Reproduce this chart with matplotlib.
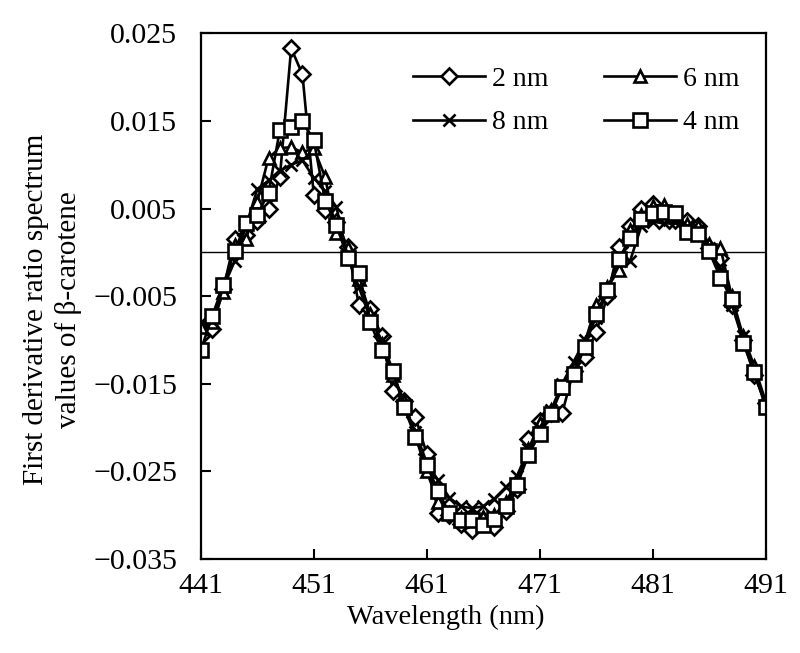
import matplotlib
matplotlib.use("Agg")
import matplotlib.pyplot as plt
from matplotlib.ticker import FuncFormatter

plt.rcParams['font.family'] = ['Liberation Serif', 'DejaVu Serif']

# wavelength grid (nm)
wavelength = list(range(441, 492))
x_ticks = [441, 451, 461, 471, 481, 491]
y_ticks = [-0.035, -0.025, -0.015, -0.005, 0.005, 0.015, 0.025]

# first derivative ratio values
d2nm = [-0.0095, -0.0087, -0.0042, 0.0015, 0.0020, 0.0036, 0.0049, 0.0086, 0.0233, 0.0203,
        0.0066, 0.0048, 0.0035, 0.0006, -0.0060, -0.0065, -0.0095, -0.0158, -0.0170, -0.0188,
        -0.0230, -0.0297, -0.0300, -0.0310, -0.0317, -0.0305, -0.0313, -0.0295, -0.0270, -0.0213,
        -0.0192, -0.0183, -0.0183, -0.0135, -0.0120, -0.0091, -0.0050, 0.0006, 0.0030, 0.0050,
        0.0055, 0.0040, 0.0037, 0.0036, 0.0030, 0.0005, -0.0006, -0.0060, -0.0100, -0.0140,
        -0.0172]
d6nm = [-0.0085, -0.0080, -0.0045, 0.0008, 0.0015, 0.0058, 0.0108, 0.0119, 0.0120, 0.0114,
        0.0119, 0.0086, 0.0022, 0.0005, -0.0030, -0.0070, -0.0105, -0.0140, -0.0170, -0.0210,
        -0.0250, -0.0285, -0.0298, -0.0303, -0.0300, -0.0302, -0.0300, -0.0285, -0.0262, -0.0225,
        -0.0195, -0.0180, -0.0155, -0.0132, -0.0103, -0.0060, -0.0040, -0.0020, 0.0025, 0.0043,
        0.0053, 0.0054, 0.0040, 0.0032, 0.0030, 0.0010, 0.0005, -0.0050, -0.0095, -0.0130,
        -0.0170]
d8nm = [-0.0080, -0.0078, -0.0040, -0.0010, 0.0030, 0.0072, 0.0082, 0.0093, 0.0100, 0.0105,
        0.0085, 0.0070, 0.0052, -0.0005, -0.0040, -0.0075, -0.0100, -0.0135, -0.0175, -0.0205,
        -0.0240, -0.0260, -0.0280, -0.0290, -0.0292, -0.0290, -0.0281, -0.0268, -0.0255, -0.0225,
        -0.0200, -0.0180, -0.0150, -0.0125, -0.0100, -0.0075, -0.0045, -0.0005, -0.0010, 0.0030,
        0.0035, 0.0033, 0.0035, 0.0030, 0.0025, 0.0005, -0.0020, -0.0060, -0.0095, -0.0135,
        -0.0175]
d4nm = [-0.0112, -0.0073, -0.0037, 0.0002, 0.0033, 0.0043, 0.0068, 0.0140, 0.0143, 0.0150,
        0.0128, 0.0059, 0.0031, -0.0006, -0.0024, -0.0080, -0.0112, -0.0135, -0.0177, -0.0211,
        -0.0243, -0.0272, -0.0298, -0.0305, -0.0306, -0.0311, -0.0304, -0.0289, -0.0266, -0.0231,
        -0.0207, -0.0185, -0.0154, -0.0139, -0.0108, -0.0070, -0.0043, -0.0008, 0.0016, 0.0038,
        0.0045, 0.0046, 0.0045, 0.0023, 0.0021, 0.0001, -0.0029, -0.0053, -0.0103, -0.0137,
        -0.0176]

fig = plt.figure(figsize=(8, 6.53), dpi=100)
ax = fig.add_axes([0.251, 0.144, 0.706, 0.805])

style = dict(color='black', lw=1.9, mfc='white', mec='black', mew=1.9)
h2, = ax.plot(wavelength, d2nm, marker='D', ms=8, label='2 nm', **style)
h6, = ax.plot(wavelength, d6nm, marker='^', ms=8.5, label='6 nm', **style)
h8, = ax.plot(wavelength, d8nm, marker='x', ms=9, label='8 nm', **style)
h4, = ax.plot(wavelength, d4nm, marker='s', ms=10, label='4 nm', **style)

ax.axhline(0, color='black', lw=1.0, zorder=1)

ax.set_xlim(441, 491)
ax.set_ylim(-0.035, 0.025)
ax.set_xticks(x_ticks)
ax.set_yticks(y_ticks)
ax.yaxis.set_major_formatter(FuncFormatter(lambda v, p: f"{v:.3f}".replace('-', '\u2212')))
ax.tick_params(direction='in', length=7, width=1.5, labelsize=21.5)
ax.tick_params(axis='y', pad=17)
ax.tick_params(axis='x', pad=10)
for s in ax.spines.values():
    s.set_linewidth(1.6)

ax.set_xlabel('Wavelength (nm)', fontsize=20.5)
ax.xaxis.set_label_coords(0.434, -0.087)
ax.set_ylabel('First derivative ratio spectrum\nvalues of \u03b2-carotene', fontsize=21,
              linespacing=1.3)
ax.yaxis.set_label_coords(-0.21, 0.475)

ax.legend(handles=[h2, h8, h6, h4], ncol=2, frameon=False, fontsize=20,
          loc='upper left', bbox_to_anchor=(0.375, 0.937), borderaxespad=0, borderpad=0,
          handlelength=2.6, handletextpad=0.25, columnspacing=2.0, labelspacing=0.65)

fig.savefig('out.png', dpi=100)
